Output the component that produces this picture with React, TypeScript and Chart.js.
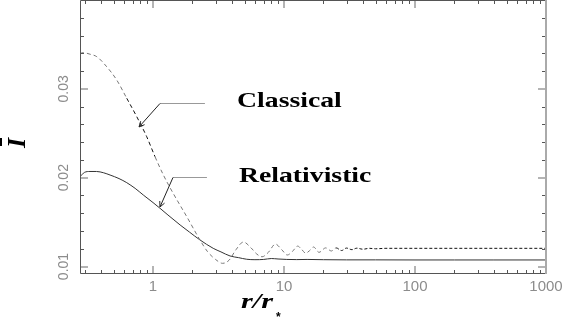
import React, { useEffect, useRef } from 'react';
import { Chart, registerables } from 'chart.js';

Chart.register(...registerables);

// ---- data ----
const classicalR = [0.277, 0.294, 0.33, 0.372, 0.443, 0.528, 0.63, 0.751, 0.895, 1.036, 1.2, 1.42, 1.81, 2.28, 2.6, 3.0, 3.4, 3.8, 4.3, 4.9, 5.6, 6.2, 6.8, 7.6, 8.6, 9.6, 10.6, 11.6, 12.7, 13.7, 14.6, 15.7, 16.8, 18.5, 20.8, 23, 25, 27.5, 30, 33, 36, 40, 45, 50, 60, 100, 200, 1000];
const classicalI = [0.0340, 0.03407, 0.0339, 0.03362, 0.03249, 0.0310, 0.02894, 0.02687, 0.02461, 0.02236, 0.0203, 0.01828, 0.01561, 0.0130, 0.0117, 0.0108, 0.01036, 0.0107, 0.0119, 0.01276, 0.0121, 0.0114, 0.0111, 0.0116, 0.01253, 0.0119, 0.0113, 0.0117, 0.0123, 0.0119, 0.0115, 0.0118, 0.0122, 0.0116, 0.0121, 0.01175, 0.0121, 0.0118, 0.01208, 0.0119, 0.01207, 0.01195, 0.01205, 0.0120, 0.01205, 0.01205, 0.01205, 0.01205];

const relativisticR = [0.277, 0.3, 0.33, 0.37, 0.42, 0.47, 0.55, 0.63, 0.73, 0.843, 1.0, 1.13, 1.3, 1.61, 1.9, 2.28, 2.88, 3.3, 3.87, 4.5, 5.19, 6, 7, 8, 9, 10.5, 12.5, 15, 20, 30, 50, 100, 200, 400, 1000];
const relativisticI = [0.0201, 0.0206, 0.0207, 0.0207, 0.02055, 0.0203, 0.0199, 0.01944, 0.0188, 0.01805, 0.0172, 0.01656, 0.0158, 0.01468, 0.01387, 0.0130, 0.01205, 0.01165, 0.01119, 0.0110, 0.01082, 0.01077, 0.0108, 0.0109, 0.01085, 0.0108, 0.01078, 0.0108, 0.01077, 0.01075, 0.01075, 0.01074, 0.01074, 0.01074, 0.01074];

const xMajorTicks = [1, 10, 100, 1000];
const xTickLabels = ['1', '10', '100', '1000'];
const yMajorTicks = [0.01, 0.02, 0.03];
const yTickLabels = ['0.01', '0.02', '0.03'];
const yMinorTicks = [0.010, 0.012, 0.014, 0.016, 0.018, 0.020, 0.022, 0.024, 0.026, 0.028, 0.030, 0.032, 0.034, 0.036, 0.038];

const xMin = 0.277;
const xMax = 1000;
const yMin = 0.00916;
const yMax = 0.04;

// annotation anchors (data space)
const annClassical = { text: 'Classical', textR: 4.38, textI: 0.02796, endR: 2.49, elbowR: 1.13, lineI: 0.02841, tipR: 0.782, tipI: 0.02571 };
const annRelativistic = { text: 'Relativistic', textR: 4.53, textI: 0.01951, endR: 2.58, elbowR: 1.42, lineI: 0.02008, tipR: 1.13, tipI: 0.0167 };

const xTitle = 'r/r';
const xTitleSub = '*';
const yTitle = 'I';

const overlayPlugin = {
  id: 'overlay',
  afterDatasetsDraw(chart: any) {
    const { ctx, chartArea: a, scales } = chart;
    const xs = scales.x;
    const ys = scales.y;
    ctx.save();

    // minor x ticks (log)
    const minorX: number[] = [];
    [0.1, 1, 10, 100].forEach((d) => {
      for (let k = 2; k <= 9; k++) {
        const v = k * d;
        if (v >= xMin && v <= xMax) minorX.push(v);
      }
    });
    ctx.strokeStyle = '#555';
    ctx.lineWidth = 1;
    ctx.beginPath();
    minorX.forEach((v) => {
      const px = Math.round(xs.getPixelForValue(v)) + 0.5;
      ctx.moveTo(px, a.bottom);
      ctx.lineTo(px, a.bottom - 4);
      ctx.moveTo(px, a.top);
      ctx.lineTo(px, a.top + 4);
    });
    yMinorTicks.forEach((v) => {
      const py = Math.round(ys.getPixelForValue(v)) + 0.5;
      ctx.moveTo(a.left, py);
      ctx.lineTo(a.left + 4, py);
      ctx.moveTo(a.right, py);
      ctx.lineTo(a.right - 4, py);
    });
    ctx.stroke();

    // major ticks
    ctx.strokeStyle = '#b4b4b4';
    ctx.lineWidth = 2;
    ctx.beginPath();
    xMajorTicks.forEach((v) => {
      const px = Math.round(xs.getPixelForValue(v));
      ctx.moveTo(px, a.bottom);
      ctx.lineTo(px, a.bottom - 8);
      ctx.moveTo(px, a.top);
      ctx.lineTo(px, a.top + 8);
    });
    yMajorTicks.forEach((v) => {
      const py = Math.round(ys.getPixelForValue(v));
      ctx.moveTo(a.left, py);
      ctx.lineTo(a.left + 8, py);
      ctx.moveTo(a.right, py);
      ctx.lineTo(a.right - 8, py);
    });
    ctx.stroke();

    // frame
    ctx.strokeStyle = '#555';
    ctx.lineWidth = 1;
    ctx.beginPath();
    ctx.moveTo(a.left + 0.5, a.top + 0.5);
    ctx.lineTo(a.left + 0.5, a.bottom - 0.5);
    ctx.lineTo(a.right, a.bottom - 0.5);
    ctx.moveTo(a.left + 0.5, a.top + 0.5);
    ctx.lineTo(a.right, a.top + 0.5);
    ctx.stroke();
    ctx.strokeStyle = '#aaa';
    ctx.lineWidth = 2;
    ctx.beginPath();
    ctx.moveTo(a.right, a.top);
    ctx.lineTo(a.right, a.bottom);
    ctx.stroke();

    // tick labels
    ctx.fillStyle = '#8c8c8c';
    ctx.font = '15px "Liberation Sans", Arial, sans-serif';
    ctx.textAlign = 'center';
    ctx.textBaseline = 'middle';
    xMajorTicks.forEach((v, i) => {
      const px = xs.getPixelForValue(v);
      ctx.fillText(xTickLabels[i], px, a.bottom + 13);
    });
    ctx.font = '14px "Liberation Sans", Arial, sans-serif';
    yMajorTicks.forEach((v, i) => {
      const py = ys.getPixelForValue(v);
      ctx.save();
      ctx.translate(a.left - 16, py);
      ctx.rotate(-Math.PI / 2);
      ctx.fillText(yTickLabels[i], 0, 0);
      ctx.restore();
    });

    // annotations
    const drawAnn = (ann: any) => {
      const tx = xs.getPixelForValue(ann.textR);
      const ty = ys.getPixelForValue(ann.textI);
      const ex = xs.getPixelForValue(ann.endR);
      const elx = xs.getPixelForValue(ann.elbowR);
      const ly = Math.round(ys.getPixelForValue(ann.lineI)) + 0.5;
      const tipx = xs.getPixelForValue(ann.tipR);
      const tipy = ys.getPixelForValue(ann.tipI);
      ctx.strokeStyle = '#999';
      ctx.lineWidth = 1;
      ctx.beginPath();
      ctx.moveTo(ex, ly);
      ctx.lineTo(elx, ly);
      ctx.stroke();
      ctx.strokeStyle = '#222';
      ctx.beginPath();
      ctx.moveTo(elx, ly);
      ctx.lineTo(tipx, tipy);
      const ang = Math.atan2(tipy - ly, tipx - elx);
      const L = 6;
      ctx.moveTo(tipx, tipy);
      ctx.lineTo(tipx - L * Math.cos(ang - 0.45), tipy - L * Math.sin(ang - 0.45));
      ctx.moveTo(tipx, tipy);
      ctx.lineTo(tipx - L * Math.cos(ang + 0.45), tipy - L * Math.sin(ang + 0.45));
      ctx.stroke();

      ctx.save();
      ctx.fillStyle = '#000';
      ctx.font = 'bold 21px "Liberation Serif", "Times New Roman", serif';
      ctx.textAlign = 'left';
      ctx.textBaseline = 'alphabetic';
      ctx.translate(tx, ty);
      ctx.scale(1.32, 1);
      ctx.fillText(ann.text, 0, 0);
      ctx.restore();
    };
    drawAnn(annClassical);
    drawAnn(annRelativistic);

    // axis titles
    ctx.fillStyle = '#000';
    ctx.save();
    ctx.font = 'bold italic 22px "Liberation Serif", "Times New Roman", serif';
    ctx.textAlign = 'left';
    ctx.textBaseline = 'alphabetic';
    ctx.translate(241, 308);
    ctx.scale(1.38, 1);
    ctx.fillText(xTitle, 0, 0);
    ctx.restore();
    ctx.save();
    ctx.font = 'bold 12px "Liberation Sans", Arial, sans-serif';
    ctx.textAlign = 'left';
    ctx.textBaseline = 'middle';
    ctx.fillText(xTitleSub, 276, 318);
    ctx.restore();

    ctx.save();
    ctx.translate(25, 143);
    ctx.rotate(-Math.PI / 2);
    ctx.font = 'bold italic 26px "Liberation Serif", "Times New Roman", serif';
    ctx.textAlign = 'center';
    ctx.textBaseline = 'alphabetic';
    ctx.fillText(yTitle, 0, 0);
    ctx.strokeStyle = '#000';
    ctx.lineWidth = 2;
    ctx.beginPath();
    ctx.moveTo(-3, -24);
    ctx.lineTo(5, -24);
    ctx.stroke();
    ctx.restore();

    ctx.restore();
  },
};

export default function App() {
  const ref = useRef<HTMLCanvasElement>(null);
  useEffect(() => {
    const canvas = ref.current;
    if (!canvas) return;
    const chart = new Chart(canvas, {
      type: 'line',
      data: {
        datasets: [
          {
            label: 'Classical',
            data: classicalR.map((r, i) => ({ x: r, y: classicalI[i] })),
            borderColor: '#777',
            borderWidth: 1,
            borderDash: [4, 3],
            pointRadius: 0,
            cubicInterpolationMode: 'monotone',
            fill: false,
            segment: {
              borderColor: (c: any) => (c.p0.parsed.x >= 25 || (c.p0.parsed.x >= 0.6 && c.p0.parsed.x < 1.0) ? '#111' : undefined),
              borderDash: (c: any) => (c.p0.parsed.x >= 25 ? [3, 2] : undefined),
            },
          },
          {
            label: 'Relativistic',
            data: relativisticR.map((r, i) => ({ x: r, y: relativisticI[i] })),
            borderColor: '#333',
            borderWidth: 1,
            pointRadius: 0,
            cubicInterpolationMode: 'monotone',
            fill: false,
          },
        ],
      } as any,
      options: {
        responsive: false,
        animation: false,
        devicePixelRatio: 1,
        events: [],
        layout: { padding: { left: 80, right: 20, top: 0, bottom: 45 } },
        plugins: { legend: { display: false }, tooltip: { enabled: false } },
        scales: {
          x: { type: 'logarithmic', min: xMin, max: xMax, display: false },
          y: { type: 'linear', min: yMin, max: yMax, display: false },
        },
      } as any,
      plugins: [overlayPlugin],
    });
    return () => chart.destroy();
  }, []);
  return (
    <div style={{ position: 'absolute', left: 0, top: 0, width: 566, height: 319, background: '#fff' }}>
      <canvas ref={ref} width={566} height={319} style={{ display: 'block' }} />
    </div>
  );
}
